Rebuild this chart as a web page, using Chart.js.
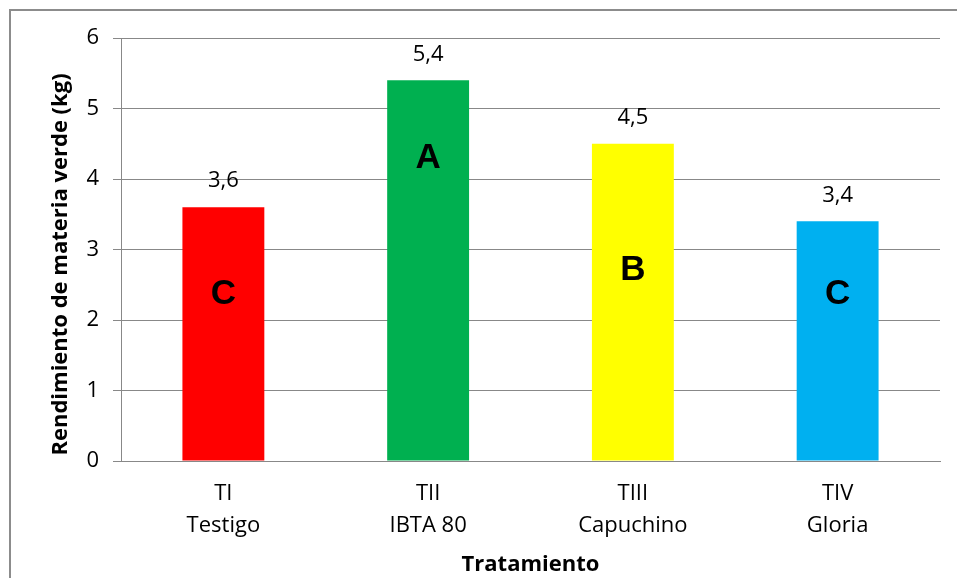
<!DOCTYPE html>
<html>
<head>
<meta charset="utf-8">
<script src="https://cdn.jsdelivr.net/npm/chart.js@4/dist/chart.umd.min.js"></script>
<style>
  html, body { margin: 0; padding: 0; background: #fff; }
  #wrap { position: relative; width: 957px; height: 578px; }
</style>
</head>
<body>
<div id="wrap"><canvas id="c" width="957" height="578"></canvas></div>
<script>
// Rendimiento de materia verde por tratamiento
const categories = [["TI", "Testigo"], ["TII", "IBTA 80"], ["TIII", "Capuchino"], ["TIV", "Gloria"]];
const yields = [3.6, 5.4, 4.5, 3.4];
const valueLabels = ["3,6", "5,4", "4,5", "3,4"];
const groupLetters = ["C", "A", "B", "C"];
const letterLevels = [2.36, 4.3, 2.71, 2.36];
const yTicks = [0, 1, 2, 3, 4, 5, 6];
const yTitle = "Rendimiento de materia verde (kg)";
const xTitle = "Tratamiento";

const barColors = ["#FF0000", "#00B050", "#FFFF00", "#00B0F0"];
const gridGray = "#888888";
const FONT = "'Open Sans', sans-serif";

// outer frame of the chart
const framePlugin = {
  id: "frame",
  beforeDraw(chart) {
    const ctx = chart.ctx;
    ctx.save();
    ctx.strokeStyle = "#8c8c8c";
    ctx.lineWidth = 2;
    ctx.beginPath();
    ctx.moveTo(10, 578);
    ctx.lineTo(10, 10);
    ctx.lineTo(957, 10);
    ctx.stroke();
    ctx.restore();
  }
};

// vertical axis title, set a little below the middle of the plot
const yTitlePlugin = {
  id: "yTitle",
  afterDraw(chart) {
    const ctx = chart.ctx;
    const area = chart.chartArea;
    ctx.save();
    ctx.translate(61, (area.top + area.bottom) / 2 + 15);
    ctx.rotate(-Math.PI / 2);
    ctx.textAlign = "center";
    ctx.textBaseline = "middle";
    ctx.fillStyle = "#000";
    ctx.font = "bold 22px " + FONT;
    ctx.fillText(yTitle, 0, 0);
    ctx.restore();
  }
};

// value labels above bars and group letters inside bars
const annotatePlugin = {
  id: "annotate",
  afterDatasetsDraw(chart) {
    const ctx = chart.ctx;
    const meta = chart.getDatasetMeta(0);
    const yScale = chart.scales.y;
    ctx.save();
    ctx.textAlign = "center";
    ctx.textBaseline = "middle";
    ctx.fillStyle = "#000";
    meta.data.forEach((bar, i) => {
      ctx.font = "22px " + FONT;
      ctx.fillText(valueLabels[i], bar.x, yScale.getPixelForValue(yields[i]) - 26);
      ctx.font = "bold 35px 'Liberation Sans', Arial, sans-serif";
      ctx.fillText(groupLetters[i], bar.x, yScale.getPixelForValue(letterLevels[i]));
    });
    ctx.restore();
  }
};

new Chart(document.getElementById("c"), {
  type: "bar",
  data: {
    labels: categories,
    datasets: [{
      data: yields,
      backgroundColor: barColors,
      borderWidth: 0,
      categoryPercentage: 1.0,
      barPercentage: 0.4
    }]
  },
  options: {
    responsive: false,
    animation: false,
    events: [],
    layout: { padding: { left: 0, top: 38, right: 17, bottom: 0 } },
    plugins: {
      legend: { display: false },
      tooltip: { enabled: false }
    },
    scales: {
      x: {
        grid: { display: false, drawTicks: false },
        border: { display: true, color: gridGray, width: 1 },
        ticks: {
          color: "#000",
          font: { family: FONT, size: 22, lineHeight: 1.45 },
          padding: 17,
          maxRotation: 0
        },
        title: {
          display: true,
          text: xTitle,
          color: "#000",
          font: { family: FONT, size: 22, weight: "bold" },
          padding: { top: 0, bottom: 0 }
        },
        afterFit(scale) { scale.height = 117; }
      },
      y: {
        min: 0,
        max: 6,
        afterBuildTicks(scale) { scale.ticks = yTicks.map(v => ({ value: v })); },
        grid: { color: gridGray, lineWidth: 1, tickLength: 8, drawTicks: true },
        border: { display: true, color: gridGray, width: 1 },
        ticks: {
          color: "#000",
          font: { family: FONT, size: 22 },
          padding: 14
        },
        title: { display: false },
        afterFit(scale) { scale.width = 121; }
      }
    }
  },
  plugins: [framePlugin, yTitlePlugin, annotatePlugin]
});
</script>
</body>
</html>
